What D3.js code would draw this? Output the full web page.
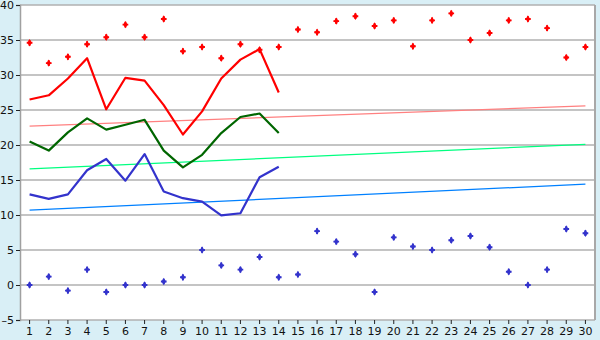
<!DOCTYPE html>
<html>
<head>
<meta charset="utf-8">
<script src="https://cdn.jsdelivr.net/npm/d3@7"></script>
<style>
  body { margin: 0; background: #d9eff6; }
  svg { display: block; }
</style>
</head>
<body>
<script>
const width = 600;
const height = 340;

// day numbers 1..30
const days = [1,2,3,4,5,6,7,8,9,10,11,12,13,14,15,16,17,18,19,20,21,22,23,24,25,26,27,28,29,30];

// record highs / lows (diamond markers)
const recordHigh = [34.6,31.7,32.6,34.4,35.4,37.2,35.4,38.0,33.4,34.0,32.4,34.4,33.6,34.0,36.5,36.1,37.7,38.4,37.0,37.8,34.1,37.8,38.8,35.0,36.0,37.8,38.0,36.7,32.5,34.0];
const recordLow = [0,1.2,-0.8,2.2,-1.0,0,0,0.5,1.1,5.0,2.8,2.2,4.0,1.1,1.5,7.7,6.2,4.4,-1.0,6.8,5.5,5.0,6.4,7.0,5.4,1.9,0,2.2,8.0,7.4];

// observed values, first 14 days
const maxTemp = [26.5,27.1,29.5,32.4,25.1,29.6,29.2,25.7,21.5,24.8,29.5,32.2,33.7,27.5];
const meanTemp = [20.5,19.2,21.8,23.8,22.2,22.9,23.6,19.2,16.8,18.6,21.7,24.0,24.5,21.7];
const minTemp = [12.95,12.3,12.95,16.4,18.0,14.9,18.7,13.35,12.4,11.9,9.95,10.25,15.4,16.9];

// normals: value on day 1 and on day 30
const normalMax = [22.7, 25.6];
const normalMean = [16.6, 20.1];
const normalMin = [10.7, 14.4];

const yTicks = [-5,0,5,10,15,20,25,30,35,40];

const margin = {left: 20, right: 5, top: 5, bottom: 20};

const svg = d3.select("body").append("svg")
    .attr("width", width)
    .attr("height", height);

const x = d3.scaleBand()
    .domain(days)
    .range([margin.left, width - margin.right]);

const y = d3.scaleLinear()
    .domain([-5, 40])
    .range([height - margin.bottom, margin.top]);

const cx = d => x(d) + x.bandwidth() / 2;

svg.append("rect")
    .attr("x", margin.left)
    .attr("y", margin.top)
    .attr("width", width - margin.left - margin.right)
    .attr("height", height - margin.top - margin.bottom)
    .style("fill", "white");

// grid lines
svg.append("g")
    .selectAll("line")
    .data(yTicks)
    .enter()
    .append("line")
    .attr("x1", margin.left)
    .attr("x2", width - margin.right)
    .attr("y1", d => y(d))
    .attr("y2", d => y(d))
    .style("stroke", "#b0b0b0")
    .style("stroke-width", 1.5);

// right border
svg.append("line")
    .attr("x1", width - margin.right)
    .attr("x2", width - margin.right)
    .attr("y1", margin.top)
    .attr("y2", height - margin.bottom)
    .style("stroke", "#a8a8a8")
    .style("stroke-width", 2);

// axes
const yAxis = svg.append("g")
    .attr("transform", `translate(${margin.left},0)`)
    .call(d3.axisLeft(y).tickValues(yTicks).tickSize(4).tickPadding(2).tickFormat(d => d < 0 ? "\u2013" + (-d) : d));

const xAxis = svg.append("g")
    .attr("transform", `translate(0,${height - margin.bottom})`)
    .call(d3.axisBottom(x).tickSize(4).tickPadding(3));

[yAxis, xAxis].forEach(a => {
    a.select(".domain").style("stroke", "#a0a0a0").style("stroke-width", 1.5);
    a.selectAll(".tick line").style("stroke", "#222");
    a.selectAll("text")
        .style("font-family", "DejaVu Sans, Verdana, sans-serif")
        .style("font-size", "11px")
        .style("fill", "#111");
});
xAxis.select(".domain").remove();
yAxis.selectAll("text").attr("dy", "0.36em");

// normal (trend) lines
const trends = [
    {v: normalMax, color: "#ff8080"},
    {v: normalMean, color: "#00ff80"},
    {v: normalMin, color: "#0080ff"}
];
trends.forEach(t => {
    svg.append("line")
        .attr("x1", cx(days[0]))
        .attr("x2", cx(days[days.length - 1]))
        .attr("y1", y(t.v[0]))
        .attr("y2", y(t.v[1]))
        .style("stroke", t.color)
        .style("stroke-width", 1.3);
});

// observed lines
const line = d3.line()
    .x((d, i) => cx(days[i]))
    .y(d => y(d));

const series = [
    {v: maxTemp, color: "#ff0000"},
    {v: meanTemp, color: "#006600"},
    {v: minTemp, color: "#3333cc"}
];
series.forEach(s => {
    svg.append("path")
        .datum(s.v)
        .attr("d", line)
        .style("fill", "none")
        .style("stroke", s.color)
        .style("stroke-width", 2.2)
        .style("stroke-linejoin", "round");
});

// record markers
const marker = d3.symbol().type(d3.symbolCross).size(18);
const markerSets = [
    {v: recordHigh, color: "#ff0000"},
    {v: recordLow, color: "#3333cc"}
];
markerSets.forEach(m => {
    svg.append("g")
        .selectAll("path")
        .data(m.v)
        .enter()
        .append("path")
        .attr("d", marker)
        .attr("transform", (d, i) => `translate(${cx(days[i])},${y(d)})`)
        .style("fill", m.color);
    svg.append("g")
        .selectAll("path")
        .data(m.v)
        .enter()
        .append("path")
        .attr("d", d3.symbol().type(d3.symbolDiamond).size(16))
        .attr("transform", (d, i) => `translate(${cx(days[i])},${y(d)})`)
        .style("fill", m.color);
});
</script>
</body>
</html>
